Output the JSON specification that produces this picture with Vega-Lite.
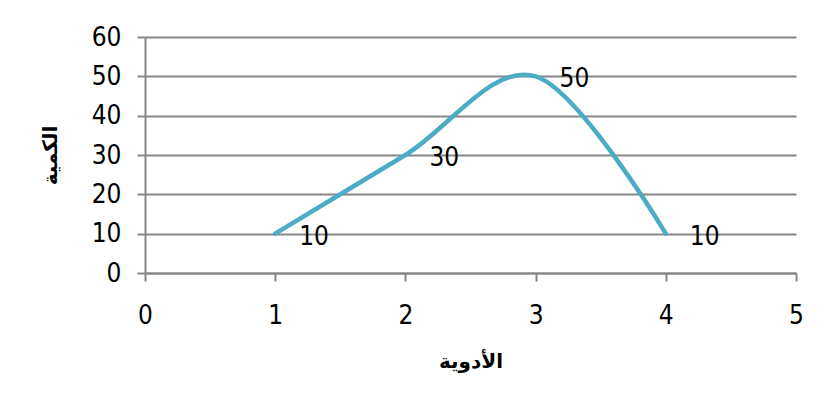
{
  "$schema": "https://vega.github.io/schema/vega-lite/v6.json",
  "width": 651,
  "height": 236,
  "autosize": {"type": "none"},
  "padding": {"left": 145, "top": 37, "right": 27, "bottom": 135},
  "background": "white",
  "config": {
    "view": {"stroke": null},
    "font": "Liberation Sans Narrow, DejaVu Sans Condensed, Liberation Sans"
  },
  "data": {
    "values": [
      {"x": 1, "y": 10},
      {"x": 2, "y": 30},
      {"x": 3, "y": 50},
      {"x": 4, "y": 10}
    ]
  },
  "encoding": {
    "x": {
      "field": "x", "type": "quantitative",
      "scale": {"domain": [0, 5], "nice": false},
      "axis": {
        "title": "الأدوية", "titleFont": "DejaVu Sans", "titleFontWeight": "bold", "titleFontSize": 20, "titleColor": "black", "titlePadding": 23,
        "values": [0, 1, 2, 3, 4, 5], "format": "d", "labelOverlap": false, "labelFlush": false,
        "labelFontSize": 26, "labelColor": "black", "labelPadding": 21, "labelFont": "Liberation Sans Narrow, DejaVu Sans Condensed, Liberation Sans",
        "grid": false, "domainColor": "#868686", "domainWidth": 2, "tickColor": "#868686", "tickWidth": 2, "tickSize": 8
      }
    },
    "y": {
      "field": "y", "type": "quantitative",
      "scale": {"domain": [0, 60], "nice": false},
      "axis": {
        "title": "الكمية", "titleFont": "DejaVu Sans", "titleFontWeight": "bold", "titleFontSize": 20, "titleColor": "black", "titlePadding": 31,
        "values": [0, 10, 20, 30, 40, 50, 60], "tickCount": 7, "labelOverlap": false, "labelFlush": false,
        "labelFontSize": 26, "labelColor": "black", "labelPadding": 16, "labelFont": "Liberation Sans Narrow, DejaVu Sans Condensed, Liberation Sans",
        "grid": true, "gridColor": "#868686", "gridWidth": 2, "gridOpacity": 1,
        "domainColor": "#868686", "domainWidth": 2, "tickColor": "#868686", "tickWidth": 2, "tickSize": 8
      }
    }
  },
  "layer": [
    {
      "mark": {"type": "line", "interpolate": "cardinal", "tension": 0, "color": "#4BACC6", "strokeWidth": 4.5, "strokeCap": "round"}
    },
    {
      "mark": {"type": "text", "align": "left", "baseline": "middle", "dx": 24, "dy": 3, "fontSize": 26, "color": "black", "font": "Liberation Sans Narrow, DejaVu Sans Condensed, Liberation Sans"},
      "encoding": {
        "text": {"field": "y", "type": "quantitative"}
      }
    }
  ]
}
